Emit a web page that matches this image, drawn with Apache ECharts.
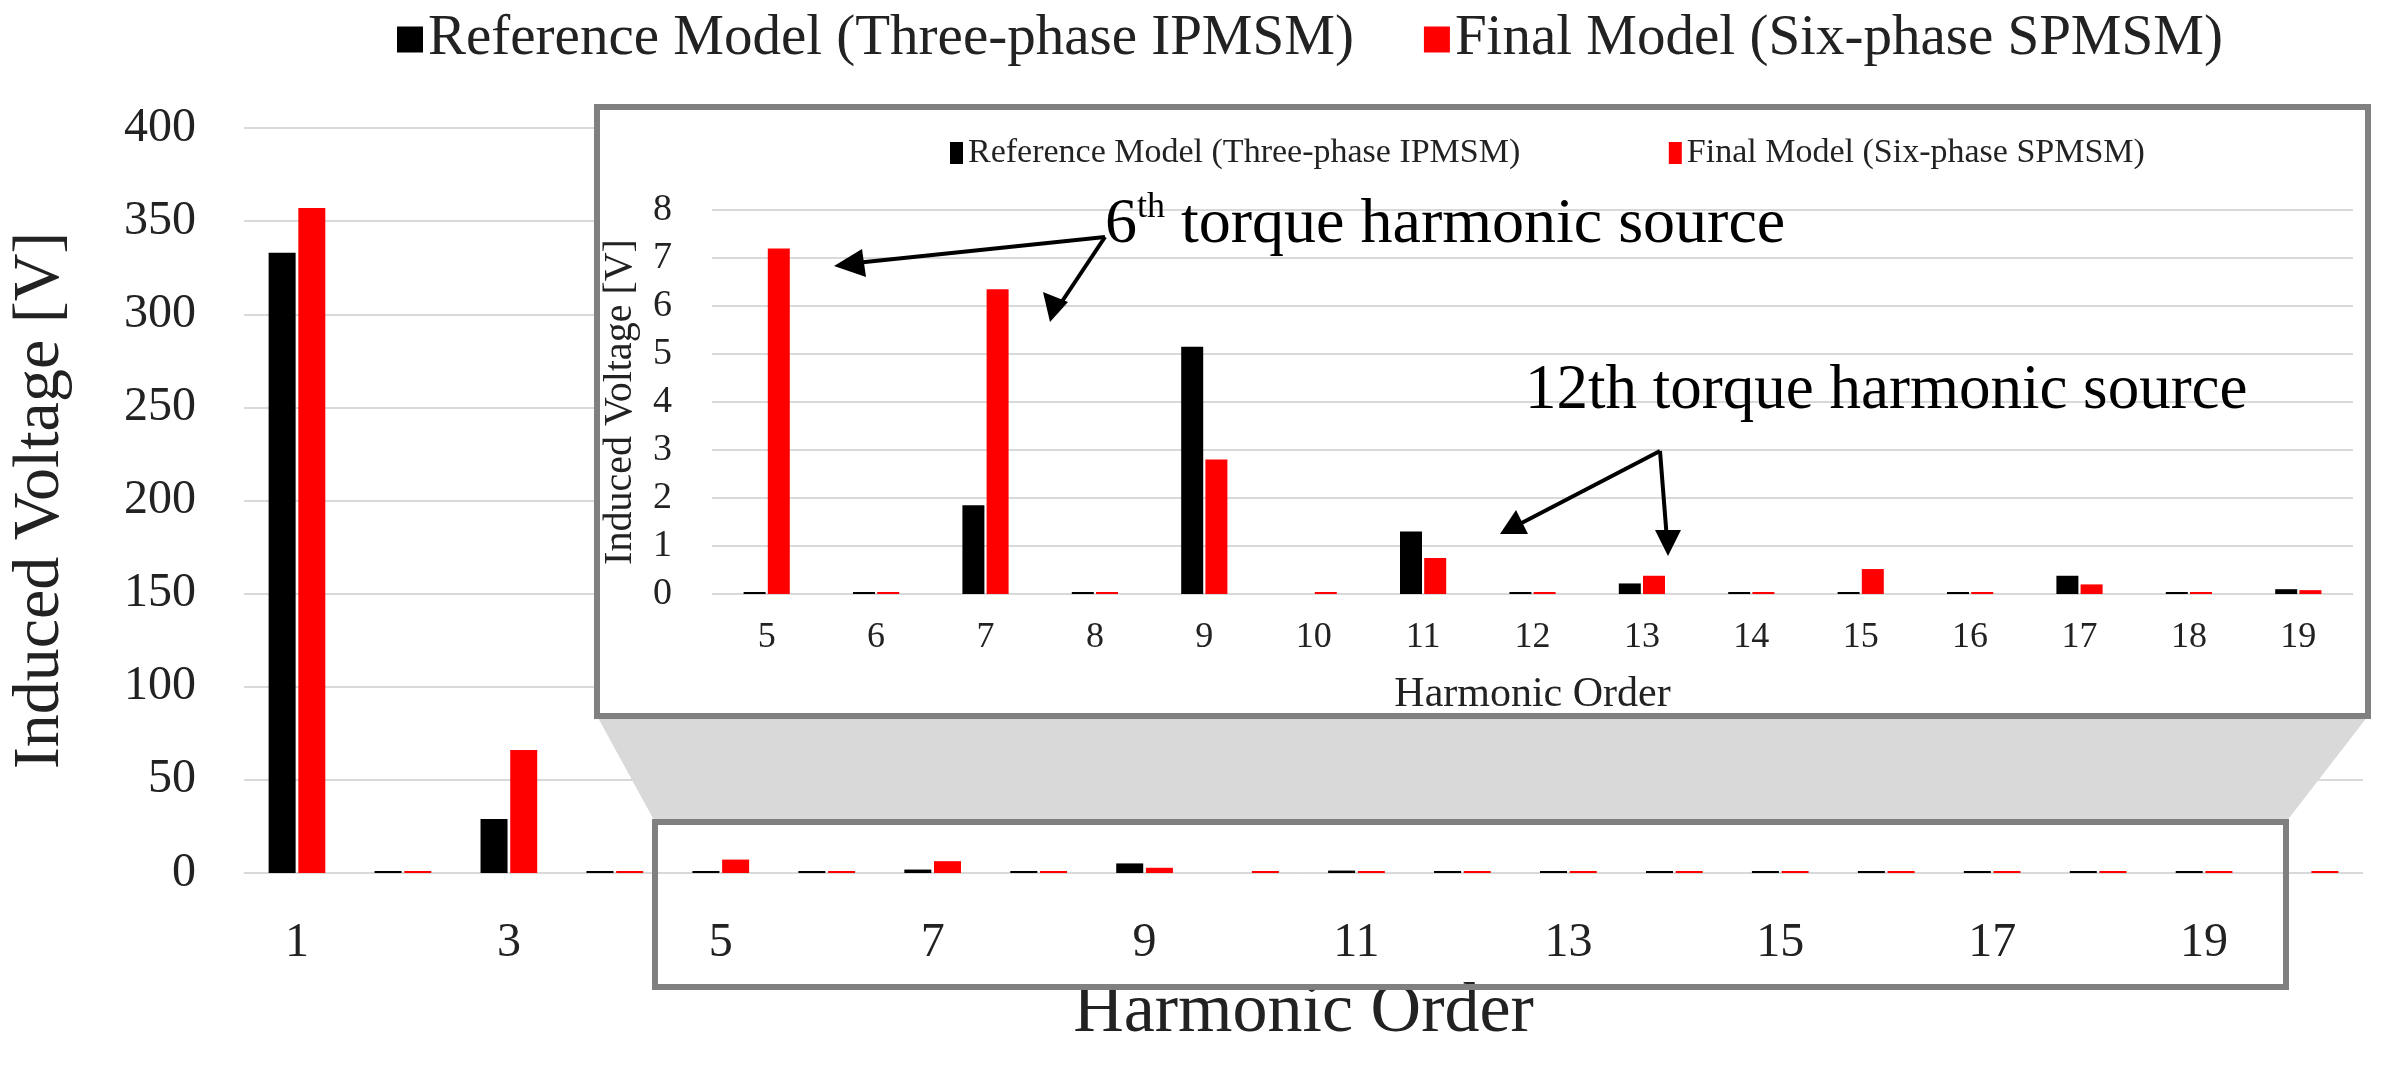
<!DOCTYPE html>
<html><head><meta charset="utf-8">
<script src="https://cdn.jsdelivr.net/npm/echarts@6/dist/echarts.min.js"></script>
<style>html,body{margin:0;background:#fff}#c{width:2386px;height:1073px}</style>
</head><body><div id="c"></div>
<script>
const seriesNames = ['Reference Model (Three-phase IPMSM)', 'Final Model (Six-phase SPMSM)'];
const mainOrders = ['1','2','3','4','5','6','7','8','9','10','11','12','13','14','15','16','17','18','19','20'];
const refMain = [333, 0.5, 29, 0.5, 0.02, 0.02, 1.85, 0.02, 5.15, null, 1.3, 0.02, 0.22, 0.02, 0.02, 0.02, 0.38, 0.02, 0.1, null];
const finMain = [357, 0.5, 66, 0.5, 7.2, 0.02, 6.35, 0.02, 2.8, 0.02, 0.75, 0.02, 0.38, 0.02, 0.52, 0.02, 0.2, 0.02, 0.08, 1];
const insetOrders = mainOrders.slice(4, 19);
const refInset = refMain.slice(4, 19);
const finInset = finMain.slice(4, 19);

const chart = echarts.init(document.getElementById('c'));
const font = 'Liberation Serif';
const grey = '#808080';

const option = {
  animation: false,
  textStyle: { fontFamily: font },
  legend: [
    {
      data: seriesNames, top: 6, left: 392, itemWidth: 26, itemHeight: 26, itemGap: 70,
      icon: 'rect', textStyle: { fontFamily: font, fontSize: 57, color: '#222' }
    },
    {
      data: seriesNames.map(n => n + ' '), top: 131, left: 945, itemWidth: 13, itemHeight: 22, itemGap: 140,
      icon: 'rect', textStyle: { fontFamily: font, fontSize: 34, color: '#222' }, z: 4
    }
  ],
  grid: [
    { left: 237, right: 23, top: 128, bottom: 200 },
    { left: 712, right: 33, top: 210, bottom: 479, z: 3 }
  ],
  xAxis: [
    {
      type: 'category', data: mainOrders, gridIndex: 0,
      axisTick: { show: false }, axisLine: { lineStyle: { color: '#d9d9d9' } },
      axisLabel: { interval: 1, fontSize: 48, color: '#222', margin: 46 },
      name: 'Harmonic Order', nameLocation: 'middle', nameGap: 105,
      nameTextStyle: { fontSize: 70, color: '#222' }
    },
    {
      type: 'category', data: insetOrders, gridIndex: 1, z: 3,
      axisTick: { show: false }, axisLine: { lineStyle: { color: '#d9d9d9' } },
      axisLabel: { interval: 0, fontSize: 36, color: '#222', margin: 26 },
      name: 'Harmonic Order', nameLocation: 'middle', nameGap: 80,
      nameTextStyle: { fontSize: 42, color: '#222' }
    }
  ],
  yAxis: [
    {
      type: 'value', gridIndex: 0, min: 0, max: 400, interval: 50,
      axisLabel: { fontSize: 48, color: '#222', margin: 48 },
      splitLine: { lineStyle: { color: '#d9d9d9', width: 2 } },
      name: 'Induced Voltage [V]', nameLocation: 'middle', nameGap: 170,
      nameTextStyle: { fontSize: 66, color: '#222' }
    },
    {
      type: 'value', gridIndex: 1, min: 0, max: 8, interval: 1, z: 3,
      axisLabel: { fontSize: 38, color: '#222', margin: 40 },
      splitLine: { lineStyle: { color: '#d9d9d9', width: 2 } },
      name: 'Induced Voltage [V]', nameLocation: 'middle', nameGap: 72,
      nameTextStyle: { fontSize: 40, color: '#222' }
    }
  ],
  series: [
    { name: seriesNames[0], type: 'bar', xAxisIndex: 0, yAxisIndex: 0, data: refMain,
      barWidth: 27, barGap: '10%', barMinHeight: 2, itemStyle: { color: '#000' } },
    { name: seriesNames[1], type: 'bar', xAxisIndex: 0, yAxisIndex: 0, data: finMain,
      barWidth: 27, barGap: '10%', barMinHeight: 2, itemStyle: { color: '#ff0000' } },
    { name: seriesNames[0] + ' ', type: 'bar', xAxisIndex: 1, yAxisIndex: 1, data: refInset, z: 4,
      barWidth: 22, barGap: '10%', barMinHeight: 2, itemStyle: { color: '#000' } },
    { name: seriesNames[1] + ' ', type: 'bar', xAxisIndex: 1, yAxisIndex: 1, data: finInset, z: 4,
      barWidth: 22, barGap: '10%', barMinHeight: 2, itemStyle: { color: '#ff0000' } }
  ],
  graphic: [
    // zoom funnel and boxes
    { type: 'polygon', z: 1, shape: { points: [[597, 716], [2368, 716], [2286, 822], [655, 822]] },
      style: { fill: '#d9d9d9' } },
    { type: 'rect', z: 1, shape: { x: 597, y: 107, width: 1771, height: 609 },
      style: { fill: '#fff', stroke: grey, lineWidth: 6 } },
    { type: 'rect', z: 10, shape: { x: 655, y: 822, width: 1631, height: 165 },
      style: { fill: 'transparent', stroke: grey, lineWidth: 6 } },
    // annotations
    { type: 'text', z: 10, left: 1105, top: 190,
      style: { text: '{a|6}{s|th}{a| torque harmonic source}', rich: {
        a: { fontFamily: font, fontSize: 64, fill: '#000' },
        s: { fontFamily: font, fontSize: 36, fill: '#000', verticalAlign: 'top', padding: [0, 0, 34, 0] } } } },
    { type: 'text', z: 10, left: 1525, top: 360,
      style: { text: '12th torque harmonic source', fontFamily: font, fontSize: 63, fill: '#000' } },
    { type: 'line', z: 10, shape: { x1: 1105, y1: 237, x2: 846, y2: 264 }, style: { stroke: '#000', lineWidth: 4 } },
    { type: 'line', z: 10, shape: { x1: 1105, y1: 237, x2: 1055, y2: 312 }, style: { stroke: '#000', lineWidth: 4 } },
    { type: 'line', z: 10, shape: { x1: 1660, y1: 451, x2: 1512, y2: 528 }, style: { stroke: '#000', lineWidth: 4 } },
    { type: 'line', z: 10, shape: { x1: 1660, y1: 451, x2: 1667, y2: 540 }, style: { stroke: '#000', lineWidth: 4 } },
    { type: 'polygon', z: 10, shape: { points: [[834, 266], [862, 249], [866, 277]] }, style: { fill: '#000' } },
    { type: 'polygon', z: 10, shape: { points: [[1050, 322], [1043, 292], [1068, 302]] }, style: { fill: '#000' } },
    { type: 'polygon', z: 10, shape: { points: [[1500, 534], [1516, 510], [1528, 534]] }, style: { fill: '#000' } },
    { type: 'polygon', z: 10, shape: { points: [[1668, 556], [1655, 530], [1681, 530]] }, style: { fill: '#000' } }
  ]
};
chart.setOption(option);
</script></body></html>
